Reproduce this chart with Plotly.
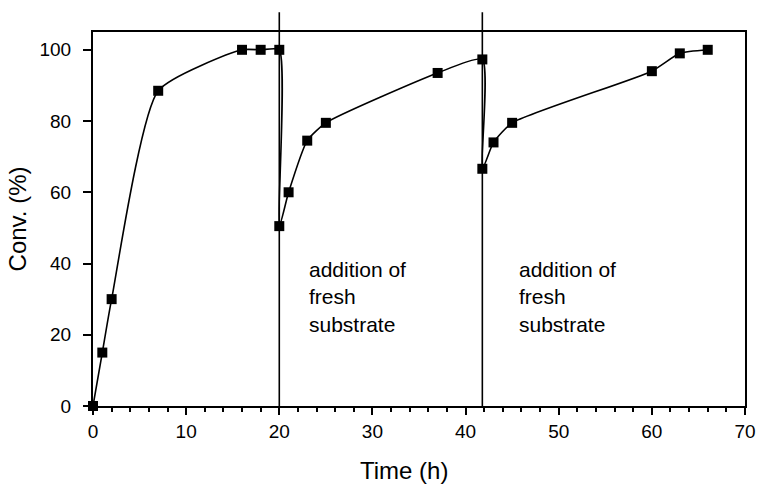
import plotly.graph_objects as go

time_h = [0, 1, 2, 7, 16, 18, 20, 20, 21, 23, 25, 37, 41.8, 41.8, 43, 45, 60, 63, 66]
conv_pct = [0, 15, 30, 88.5, 100, 100, 100, 50.5, 60, 74.5, 79.5, 93.5, 97.3, 66.6, 74, 79.5, 94, 99, 100]

addition_times = [20, 41.8]
note_x = [23, 45.5]
note_y = 30.6
note_text = "addition of<br>fresh<br>substrate"

FONT = "Liberation Sans, Arial, sans-serif"

fig = go.Figure()
fig.add_trace(go.Scatter(
    x=time_h, y=conv_pct, mode="lines+markers",
    line=dict(color="black", width=1.6, shape="spline", smoothing=0.55),
    marker=dict(symbol="square", size=10, color="black"),
    showlegend=False, cliponaxis=False,
))

for t in addition_times:
    fig.add_shape(type="line", xref="x", yref="paper", x0=t, x1=t, y0=0, y1=1.053,
                  line=dict(color="black", width=1.6))

for nx in note_x:
    fig.add_annotation(x=nx, y=note_y, xref="x", yref="y", text=note_text,
                       showarrow=False, xanchor="left", yanchor="middle", align="left",
                       font=dict(family=FONT, size=21, color="black"))

# x-axis title (placed slightly left of centre as in the original)
fig.add_annotation(x=0.477, y=-0.172, xref="paper", yref="paper", text="Time (h)",
                   showarrow=False, xanchor="center", yanchor="middle",
                   font=dict(family=FONT, size=24, color="black"))

fig.update_layout(
    width=761, height=488,
    margin=dict(l=93, r=16, t=32, b=82, autoexpand=False),
    paper_bgcolor="white", plot_bgcolor="white",
    font=dict(family=FONT, size=19, color="black"),
    xaxis=dict(range=[0, 70], dtick=10, tick0=0, showgrid=False, zeroline=False,
               showline=True, linecolor="black", linewidth=2, mirror=True,
               ticks="outside", ticklen=7, tickwidth=1.5, tickcolor="black",
               minor=dict(dtick=2, ticks="outside", ticklen=4, tickwidth=1.5, tickcolor="black")),
    yaxis=dict(range=[0, 105], tickvals=[0, 20, 40, 60, 80, 100], showgrid=False, zeroline=False,
               showline=True, linecolor="black", linewidth=2, mirror=True,
               ticks="outside", ticklen=8, tickwidth=1.5, tickcolor="black",
               ticklabelstandoff=8,
               title=dict(text="Conv. (%)", font=dict(size=24), standoff=6)),
)

fig.write_html("out.html")
